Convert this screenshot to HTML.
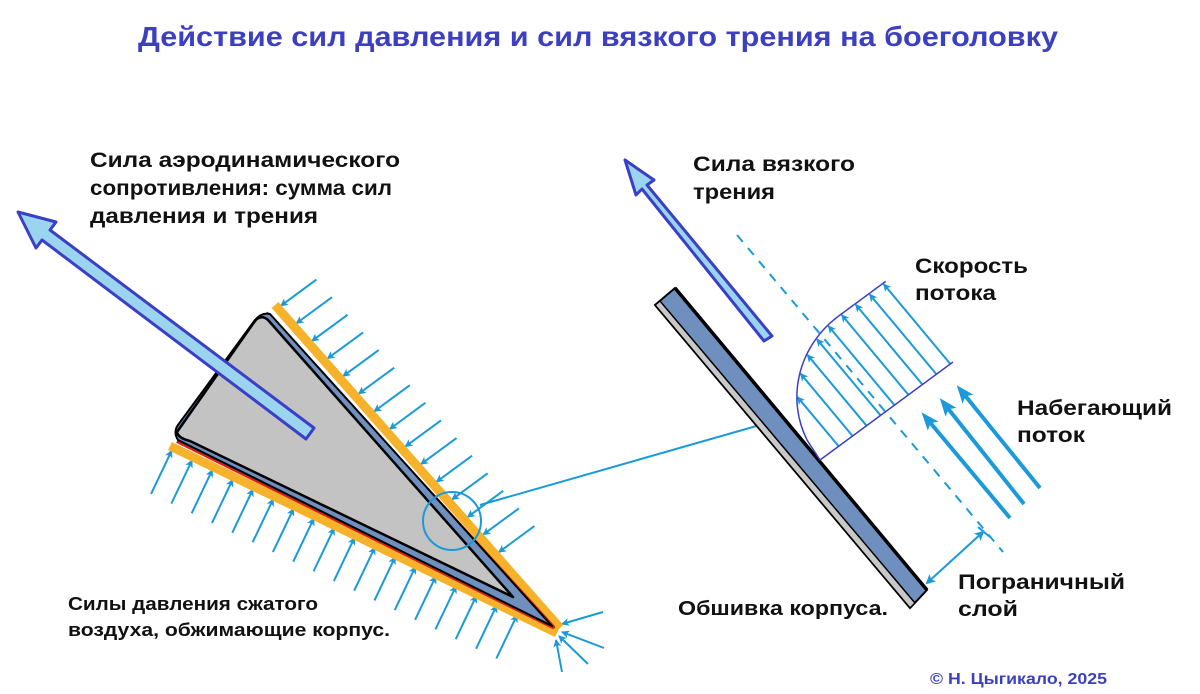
<!DOCTYPE html>
<html><head><meta charset="utf-8"><style>
html,body{margin:0;padding:0;background:#fff;width:1200px;height:694px;overflow:hidden}
svg{display:block}
text{font-family:"Liberation Sans",sans-serif;font-weight:bold}
</style></head><body>
<svg id="s" width="1200" height="694" viewBox="0 0 1200 694" xmlns="http://www.w3.org/2000/svg">
<defs>
<marker id="ah" markerWidth="8" markerHeight="8" refX="7" refY="4" orient="auto" markerUnits="userSpaceOnUse"><path d="M0,0 L8,4 L0,8 L2,4 z" fill="#1a9ad8"/></marker>
<marker id="ah2" markerWidth="10" markerHeight="10" refX="8" refY="5" orient="auto-start-reverse" markerUnits="userSpaceOnUse"><path d="M0,0 L10,5 L0,10 L2.5,5 z" fill="#1a9ad8"/></marker>
<marker id="ahb" markerWidth="18" markerHeight="14" refX="8" refY="7" orient="auto" markerUnits="userSpaceOnUse"><path d="M0,0 L18,7 L0,14 L4,7 z" fill="#1a9ad8"/></marker>
</defs>
<text x="138" y="46" font-size="28" fill="#3c40c0" textLength="920" lengthAdjust="spacingAndGlyphs">Действие сил давления и сил вязкого трения на боеголовку</text>

<g id="press" stroke="#1a9ad8" stroke-width="2" fill="none"></g>

<!-- body -->
<line x1="275" y1="305" x2="560" y2="628" stroke="#f5b22a" stroke-width="9"/>
<line x1="170" y1="446" x2="557" y2="633" stroke="#f5b22a" stroke-width="9"/>
<polyline points="266,313 553,627 177,441" fill="none" stroke="#d8201a" stroke-width="4" stroke-linejoin="round"/>
<path d="M178,440 Q173,432 178,425 L255,320 Q262,312 270,314 L552,626 Z" fill="#6f8fbf" stroke="#000" stroke-width="2" stroke-linejoin="round"/>
<path d="M177,432 L255,321 Q261,314 268,320 L513,597 L190,441 Q178,438 177,432 Z" fill="#c3c3c3" stroke="#000" stroke-width="2.5" stroke-linejoin="round"/>

<!-- big arrow -->
<polygon points="314,428 50,230 56,222 18,212 36,248 42,240 306,439" fill="#9bd4ee" stroke="#3b3fc6" stroke-width="3" stroke-linejoin="round"/>

<circle cx="452" cy="521" r="29" fill="none" stroke="#1a9ad8" stroke-width="2"/>
<line x1="480" y1="505" x2="760" y2="425" stroke="#1a9ad8" stroke-width="2"/>

<!-- right: plate -->
<polygon points="655,305 675,288 927,590 910,608" fill="#6f8fbf" stroke="#000" stroke-width="2"/>
<polygon points="655,305 660,301 915,603 910,608" fill="#c8c8c8" stroke="#000" stroke-width="1.5"/>
<line x1="675" y1="288" x2="927" y2="590" stroke="#000" stroke-width="3.5"/>

<!-- dashed -->
<line x1="737" y1="235" x2="1003" y2="552" stroke="#1a9ad8" stroke-width="2" stroke-dasharray="9,8"/>

<!-- viscous arrow -->
<polygon points="772,336 647,185 654,180 625,160 636,195 642,189 764,341" fill="#9bd4ee" stroke="#3b3fc6" stroke-width="3" stroke-linejoin="round"/>

<g id="prof" stroke="#1a9ad8" stroke-width="2" fill="none"></g>
<path id="curve" fill="none" stroke="#3b3fc6" stroke-width="1.5"/>
<line x1="820" y1="460" x2="953" y2="362" stroke="#3b3fc6" stroke-width="1.5"/>

<!-- incoming -->
<g stroke="#1a9ad8" stroke-width="4" fill="none">
<line x1="1010" y1="518" x2="928" y2="420" marker-end="url(#ahb)"/>
<line x1="1024" y1="504" x2="946" y2="406" marker-end="url(#ahb)"/>
<line x1="1040" y1="488" x2="963" y2="393" marker-end="url(#ahb)"/>
</g>
<line x1="927" y1="583" x2="983" y2="532" stroke="#1a9ad8" stroke-width="2" marker-start="url(#ah2)" marker-end="url(#ah2)"/>
<line x1="978" y1="527" x2="990" y2="537" stroke="#1a9ad8" stroke-width="2"/>

<g font-size="21" fill="#111">
<text x="90" y="167" textLength="310" lengthAdjust="spacingAndGlyphs">Сила аэродинамического</text>
<text x="90" y="195" textLength="302" lengthAdjust="spacingAndGlyphs">сопротивления: сумма сил</text>
<text x="90" y="223" textLength="228" lengthAdjust="spacingAndGlyphs">давления и трения</text>
<text x="693" y="171" textLength="162" lengthAdjust="spacingAndGlyphs">Сила вязкого</text>
<text x="693" y="199" textLength="82" lengthAdjust="spacingAndGlyphs">трения</text>
<text x="915" y="273" textLength="113" lengthAdjust="spacingAndGlyphs">Скорость</text>
<text x="915" y="300" textLength="81" lengthAdjust="spacingAndGlyphs">потока</text>
<text x="1017" y="415" textLength="155" lengthAdjust="spacingAndGlyphs">Набегающий</text>
<text x="1017" y="442" textLength="68" lengthAdjust="spacingAndGlyphs">поток</text>
<text x="958" y="589" textLength="167" lengthAdjust="spacingAndGlyphs">Пограничный</text>
<text x="958" y="616" textLength="60" lengthAdjust="spacingAndGlyphs">слой</text>
<text x="678" y="615" font-size="20" textLength="210" lengthAdjust="spacingAndGlyphs">Обшивка корпуса.</text>
<text x="68" y="610" font-size="18.5" textLength="250" lengthAdjust="spacingAndGlyphs">Силы давления сжатого</text>
<text x="68" y="636" font-size="18.5" textLength="322" lengthAdjust="spacingAndGlyphs">воздуха, обжимающие корпус.</text>
</g>
<text x="930" y="684" font-size="16" fill="#3c40c0" textLength="177" lengthAdjust="spacingAndGlyphs">© Н. Цыгикало, 2025</text>
</svg>
<script>
var NS="http://www.w3.org/2000/svg";
function ln(g,x1,y1,x2,y2,m){var l=document.createElementNS(NS,"line");l.setAttribute("x1",x1);l.setAttribute("y1",y1);l.setAttribute("x2",x2);l.setAttribute("y2",y2);if(m)l.setAttribute("marker-end","url(#ah)");g.appendChild(l);}
var p=document.getElementById("press");
var ax=273,ay=306,bx=556,by=626,dx=bx-ax,dy=by-ay,L=Math.hypot(dx,dy),ux=dx/L,uy=dy/L,nx=uy,ny=-ux;
for(var i=0;i<15;i++){var t=5+i*23.5;var sx=ax+ux*t+nx*6,sy=ay+uy*t+ny*6;ln(p,sx+nx*44+ux*4,sy+ny*44+uy*4,sx,sy,1);}
ax=172;ay=443;dx=bx-ax;dy=by-ay;L=Math.hypot(dx,dy);ux=dx/L;uy=dy/L;nx=-uy;ny=ux;
for(var i=0;i<18;i++){var t=3+i*22.5;var sx=ax+ux*t+nx*7,sy=ay+uy*t+ny*7;ln(p,sx+nx*48,sy+ny*48,sx,sy,1);}
ln(p,603,612,562,624,1);ln(p,604,648,562,632,1);ln(p,588,664,559,636,1);ln(p,562,672,556,640,1);
var g=document.getElementById("prof");
var d="";
for(var k=0;k<=60;k++){var t=k/60;var Lt=t<0.65?105*Math.sqrt(1-Math.pow(1-t/0.65,2)):105;var bxp=820+133*t,byp=460-98*t;var tx=bxp-0.641*Lt,ty=byp-0.768*Lt;d+=(k?"L":"M")+tx.toFixed(1)+","+ty.toFixed(1);}
document.getElementById("curve").setAttribute("d",d);
for(var j=1;j<=9;j++){var t=j*0.105+0.035;if(t>1)t=1;var Lt=t<0.65?105*Math.sqrt(1-Math.pow(1-t/0.65,2)):105;var bxp=820+133*t,byp=460-98*t;ln(g,bxp,byp,bxp-0.641*(Lt-1),byp-0.768*(Lt-1),1);}
</script>
</body></html>
